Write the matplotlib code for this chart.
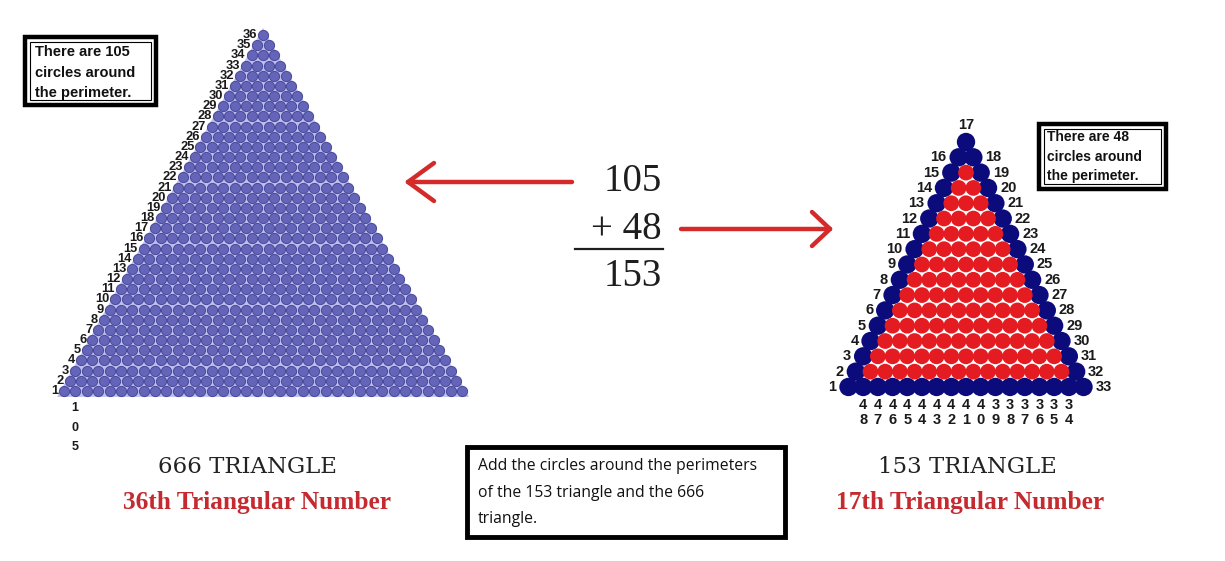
import matplotlib
matplotlib.use("Agg")
import matplotlib.pyplot as plt
from matplotlib.patches import Rectangle, Polygon

# ---------------- data ----------------
left_rows = 36                      # 666 = 36th triangular number
right_rows = 17                     # 153 = 17th triangular number
left_perimeter = 105
right_perimeter = 48
sum_total = 153
left_edge_labels = list(range(1, 37))          # numbers along left edge of 666 triangle
left_bottom_label = ["1", "0", "5"]
right_left_labels = list(range(1, 18))         # 1 (bottom-left) .. 17 (apex)
right_right_labels = list(range(18, 34))       # 18 .. 33 (bottom-right)
right_bottom_labels = list(range(48, 33, -1))  # 48 .. 34 along the base
box_left_text = ["There are 105", "circles around", "the perimeter."]
box_right_text = ["There are 48", "circles around", "the perimeter."]
box_bottom_text = ["Add the circles around the perimeters",
                   "of the 153 triangle and the 666",
                   "triangle."]
title_left = ["666 TRIANGLE", "36th Triangular Number"]
title_right = ["153 TRIANGLE", "17th Triangular Number"]

# ---------------- figure ----------------
fig = plt.figure(figsize=(12.25, 5.61), dpi=100)
ax = fig.add_axes([0, 0, 1, 1])
ax.set_xlim(0, 1225)
ax.set_ylim(561, 0)
ax.axis("off")


def tri_points(n, cx, top, dx, dy):
    pts = []
    for i in range(n):
        for j in range(i + 1):
            x = cx + (j - i / 2.0) * dx
            y = top + i * dy
            per = (i == n - 1) or (j == 0) or (j == i)
            pts.append((x, y, i, j, per))
    return pts


# ---------- left (666) triangle ----------
Lcx, Ltop, Ldx, Ldy = 263, 35, 11.37, 10.17
lp = tri_points(left_rows, Lcx, Ltop, Ldx, Ldy)
lbot = Ltop + (left_rows - 1) * Ldy
lhalf = (left_rows - 1) * Ldx / 2
ax.add_patch(Polygon([(Lcx, Ltop - 7), (Lcx - lhalf - 7, lbot + 6), (Lcx + lhalf + 7, lbot + 6)],
                     closed=True, facecolor="#c0c0f0", edgecolor="none", zorder=1))
ax.scatter([p[0] for p in lp], [p[1] for p in lp], s=54, c="#6464b8",
           edgecolors="#48489a", linewidths=0.7, zorder=2)
for k in left_edge_labels:
    i = left_rows - k
    x = Lcx - i / 2.0 * Ldx
    y = Ltop + i * Ldy
    ax.text(x - 6, y, str(k), ha="right", va="center", fontsize=9.3,
            fontweight="bold", color="#1a1a1a", family="Liberation Sans", zorder=3)
for m, ch in enumerate(left_bottom_label):
    ax.text(75, 408 + m * 19.5, ch, ha="center", va="center", fontsize=9,
            fontweight="bold", color="#1a1a1a", family="Liberation Sans")

# ---------- right (153) triangle ----------
Rcx, Rtop, Rdx, Rdy = 966, 142, 14.69, 15.31
rp = tri_points(right_rows, Rcx, Rtop, Rdx, Rdy)
per = [p for p in rp if p[4]]
inner = [p for p in rp if not p[4]]
ax.scatter([p[0] for p in per], [p[1] for p in per], s=175, c="#0b0b7c",
           edgecolors="none", zorder=2)
ax.scatter([p[0] for p in inner], [p[1] for p in inner], s=128, c="#e51b22",
           edgecolors="none", zorder=3)

lab = dict(fontsize=10.5, fontweight="bold", color="#1a1a1a", family="Liberation Sans")
for k in right_left_labels:
    i = right_rows - k
    x = Rcx - i / 2.0 * Rdx
    y = Rtop + i * Rdy
    if k == right_rows:
        ax.text(x, y - 17, str(k), ha="center", va="center", **lab)
    else:
        ax.text(x - 12, y, str(k), ha="right", va="center", **lab)
for idx, k in enumerate(right_right_labels):
    i = idx + 1
    x = Rcx + i / 2.0 * Rdx
    y = Rtop + i * Rdy
    ax.text(x + 12, y, str(k), ha="left", va="center", **lab)
rbot = Rtop + (right_rows - 1) * Rdy
for idx, k in enumerate(right_bottom_labels):
    j = idx + 1
    x = Rcx + (j - (right_rows - 1) / 2.0) * Rdx
    s = str(k)
    ax.text(x, rbot + 18, s[0], ha="center", va="center", **lab)
    ax.text(x, rbot + 33, s[1], ha="center", va="center", **lab)

# ---------- boxes ----------
def framed_box(x0, y0, x1, y1, lines, x_text, y_first, dy, **kw):
    ax.add_patch(Rectangle((x0, y0), x1 - x0, y1 - y0, fill=False,
                           edgecolor="black", linewidth=3.2, zorder=4))
    ax.add_patch(Rectangle((x0 + 5, y0 + 5), x1 - x0 - 10, y1 - y0 - 10, fill=False,
                           edgecolor="black", linewidth=0.8, zorder=4))
    for n, t in enumerate(lines):
        ax.text(x_text, y_first + n * dy, t, ha="left", va="center", zorder=5, **kw)


framed_box(25, 37, 156, 105, box_left_text, 35, 52, 20.5,
           fontsize=10.5, fontweight="bold", color="#111111", family="Liberation Sans")
framed_box(1039, 124, 1166, 189, box_right_text, 1047, 137, 19.5,
           fontsize=10, fontweight="bold", color="#111111", family="Liberation Sans")

ax.add_patch(Rectangle((467, 447), 318, 90, fill=False, edgecolor="black",
                       linewidth=3.5, zorder=4))
for n, t in enumerate(box_bottom_text):
    ax.text(478, 466 + n * 26.5, t, ha="left", va="center", fontsize=11.3,
            color="#111111", family="Open Sans")

# ---------- titles ----------
ax.text(247, 467, title_left[0], ha="center", va="center", fontsize=16.5,
        color="#222222", family="DejaVu Serif")
ax.text(257, 503, title_left[1], ha="center", va="center", fontsize=18.3,
        fontweight="bold", color="#c42a2f", family="Liberation Serif")
ax.text(967, 467, title_right[0], ha="center", va="center", fontsize=16.5,
        color="#222222", family="DejaVu Serif")
ax.text(970, 502, title_right[1], ha="center", va="center", fontsize=18.3,
        fontweight="bold", color="#c42a2f", family="Liberation Serif")

# ---------- sum in the middle ----------
ax.text(662, 181, f"{left_perimeter}", ha="right", va="center", fontsize=28,
        color="#1e1e1e", family="Liberation Serif")
ax.text(662, 229, f"+ {right_perimeter}", ha="right", va="center", fontsize=28,
        color="#1e1e1e", family="Liberation Serif")
ax.plot([575, 663], [249, 249], color="#1e1e1e", linewidth=1.6)
ax.text(662, 276, f"{sum_total}", ha="right", va="center", fontsize=28,
        color="#1e1e1e", family="Liberation Serif")

# ---------- arrows ----------
red = "#d52a2a"
akw = dict(color=red, linewidth=3.2, solid_capstyle="round", zorder=3)
ax.plot([572, 408], [182, 182], **akw)
ax.plot([408, 434], [182, 163], **akw)
ax.plot([408, 434], [182, 201], **akw)
ax.plot([681, 830], [229, 229], **akw)
ax.plot([830, 812], [229, 212], **akw)
ax.plot([830, 812], [229, 246], **akw)

fig.savefig("out.png", dpi=100, facecolor="white")
